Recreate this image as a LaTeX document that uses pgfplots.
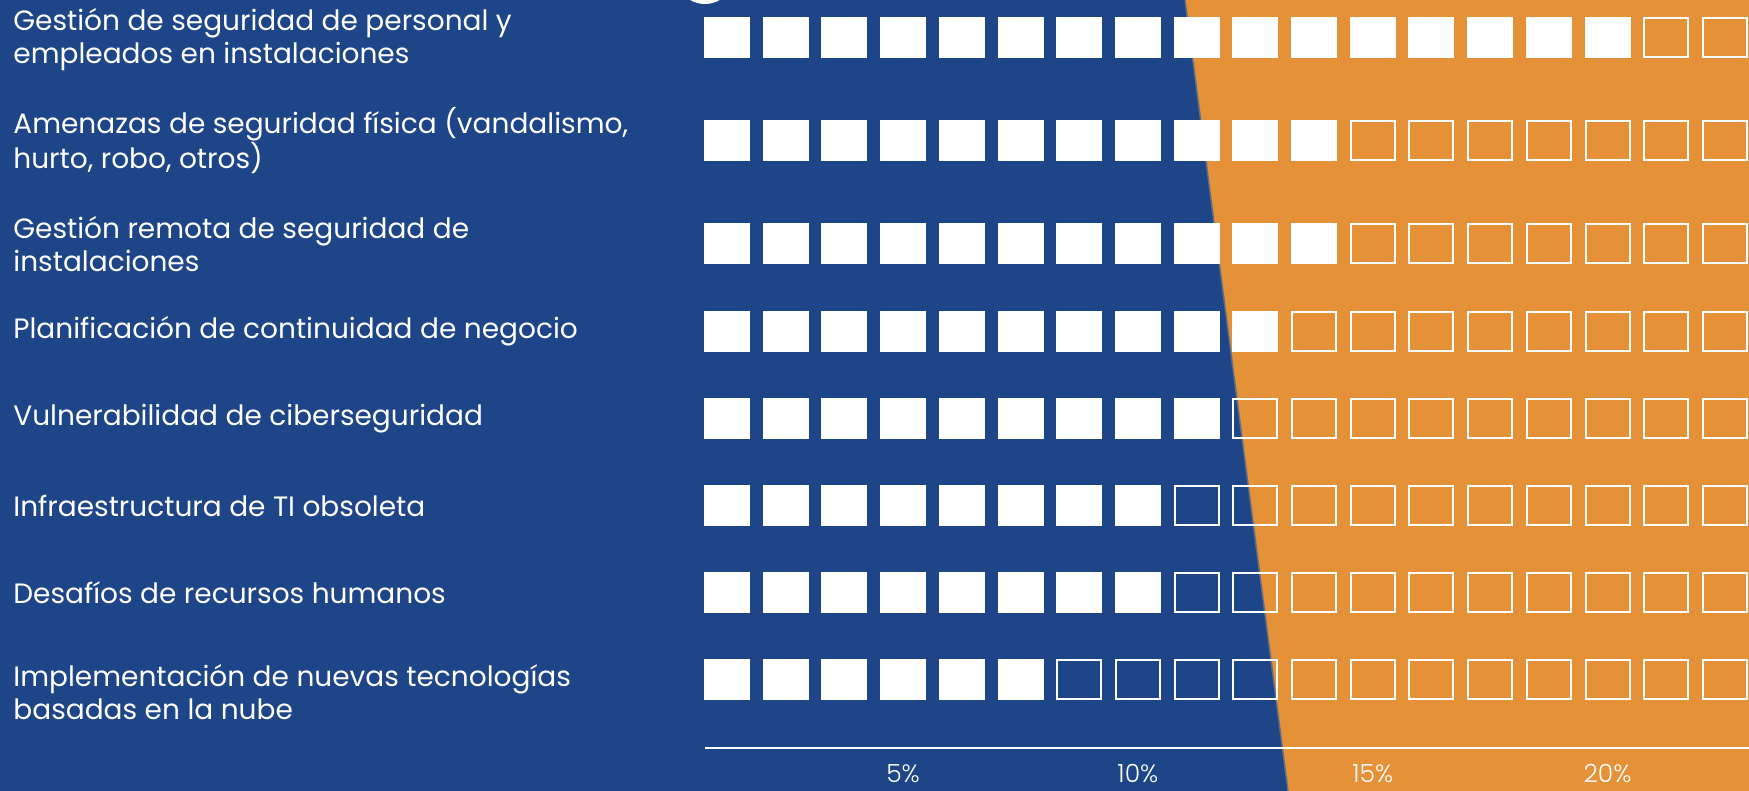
\documentclass[border=0pt]{standalone}
\usepackage{fontspec}
\setmainfont{Poppins}
\IfFontExistsTF{Poppins Light}{\newfontfamily\lightfont{Poppins Light}}{\newfontfamily\lightfont{Poppins}}
\usepackage{pgfplots}
\pgfplotsset{compat=1.18}
\definecolor{bgblue}{RGB}{29,69,135}
\definecolor{bgorange}{RGB}{229,145,56}
\definecolor{edgegray}{RGB}{95,110,135}

\pgfdeclareplotmark{wsqfill}{%
  \pgfsetcornersarced{\pgfpoint{1.5pt}{1.5pt}}%
  \pgfpathrectangle{\pgfpoint{-11.5pt}{-10.25pt}}{\pgfpoint{23pt}{20.5pt}}%
  \pgfusepathqfill}
\pgfdeclareplotmark{wsqline}{%
  \pgfsetcornersarced{\pgfpoint{1.5pt}{1.5pt}}%
  \pgfsetlinewidth{1pt}%
  \pgfpathrectangle{\pgfpoint{-11pt}{-9.75pt}}{\pgfpoint{22pt}{19.5pt}}%
  \pgfusepathqstroke}

\begin{document}
\begin{tikzpicture}
\begin{axis}[
  set layers=standard,
  scale only axis, width=874.5pt, height=395.5pt,
  xmin=-14.231, xmax=23.013, ymin=0, ymax=791,
  clip=false,
  axis line style={draw=none},
  major tick length=0pt,
  xtick={5,10,15,20},
  xticklabels={5\%,10\%,15\%,20\%},
  xticklabel style={font=\lightfont\fontsize{12.5}{12.5}\selectfont, text=white, anchor=north, inner sep=0pt, yshift=13.5pt},
  ytick={99,198,285,372.5,459.5,547,650.5,751.5},
  yticklabels={
    {Implementación de nuevas tecnologías\\basadas en la nube},
    {Desafíos de recursos humanos},
    {Infraestructura de TI obsoleta},
    {Vulnerabilidad de ciberseguridad},
    {Planificación de continuidad de negocio},
    {Gestión remota de seguridad de\\instalaciones},
    {Amenazas de seguridad física (vandalismo,\\hurto, robo, otros)},
    {Gestión de seguridad de personal y\\empleados en instalaciones}},
  yticklabel style={font=\fontsize{14}{16.5}\selectfont, text=white, anchor=west, align=left, inner sep=0pt, xshift=6.5pt},
]
\coordinate (bbsw) at (axis cs:-14.231,0);
\coordinate (bbne) at (axis cs:23.013,791);
\begin{pgfonlayer}{axis background}
\fill[bgblue] (axis cs:-14.231,0) rectangle (axis cs:23.013,791);
\fill[bgorange] (axis cs:11.003,791) -- (axis cs:23.013,791) -- (axis cs:23.013,0) -- (axis cs:13.196,0) -- cycle;
\draw[edgegray, line width=0.75pt] (axis cs:11.003,791) -- (axis cs:13.196,0);
\draw[white, line width=1pt] (axis cs:0.78,43) -- (axis cs:23.013,43);
\draw[white, line width=2pt] (axis cs:0.78,817) circle[radius=14pt];
\end{pgfonlayer}

% empty squares
\addplot[only marks, mark=wsqline, color=white] coordinates {
  (21.25,753.8)(22.5,753.8)
  (15,650.5)(16.25,650.5)(17.5,650.5)(18.75,650.5)(20,650.5)(21.25,650.5)(22.5,650.5)
  (15,547)(16.25,547)(17.5,547)(18.75,547)(20,547)(21.25,547)(22.5,547)
  (13.75,459.5)(15,459.5)(16.25,459.5)(17.5,459.5)(18.75,459.5)(20,459.5)(21.25,459.5)(22.5,459.5)
  (12.5,372.5)(13.75,372.5)(15,372.5)(16.25,372.5)(17.5,372.5)(18.75,372.5)(20,372.5)(21.25,372.5)(22.5,372.5)
  (11.25,285)(12.5,285)(13.75,285)(15,285)(16.25,285)(17.5,285)(18.75,285)(20,285)(21.25,285)(22.5,285)
  (11.25,198)(12.5,198)(13.75,198)(15,198)(16.25,198)(17.5,198)(18.75,198)(20,198)(21.25,198)(22.5,198)
  (8.75,111)(10,111)(11.25,111)(12.5,111)(13.75,111)(15,111)(16.25,111)(17.5,111)(18.75,111)(20,111)(21.25,111)(22.5,111)
};
% filled squares
\addplot[only marks, mark=wsqfill, color=white] coordinates {
  (1.25,753.8)(2.5,753.8)(3.75,753.8)(5,753.8)(6.25,753.8)(7.5,753.8)(8.75,753.8)(10,753.8)(11.25,753.8)(12.5,753.8)(13.75,753.8)(15,753.8)(16.25,753.8)(17.5,753.8)(18.75,753.8)(20,753.8)
  (1.25,650.5)(2.5,650.5)(3.75,650.5)(5,650.5)(6.25,650.5)(7.5,650.5)(8.75,650.5)(10,650.5)(11.25,650.5)(12.5,650.5)(13.75,650.5)
  (1.25,547)(2.5,547)(3.75,547)(5,547)(6.25,547)(7.5,547)(8.75,547)(10,547)(11.25,547)(12.5,547)(13.75,547)
  (1.25,459.5)(2.5,459.5)(3.75,459.5)(5,459.5)(6.25,459.5)(7.5,459.5)(8.75,459.5)(10,459.5)(11.25,459.5)(12.5,459.5)
  (1.25,372.5)(2.5,372.5)(3.75,372.5)(5,372.5)(6.25,372.5)(7.5,372.5)(8.75,372.5)(10,372.5)(11.25,372.5)
  (1.25,285)(2.5,285)(3.75,285)(5,285)(6.25,285)(7.5,285)(8.75,285)(10,285)
  (1.25,198)(2.5,198)(3.75,198)(5,198)(6.25,198)(7.5,198)(8.75,198)(10,198)
  (1.25,111)(2.5,111)(3.75,111)(5,111)(6.25,111)(7.5,111)
};
\end{axis}
\pgfresetboundingbox
\useasboundingbox (bbsw) rectangle (bbne);
\end{tikzpicture}
\end{document}
